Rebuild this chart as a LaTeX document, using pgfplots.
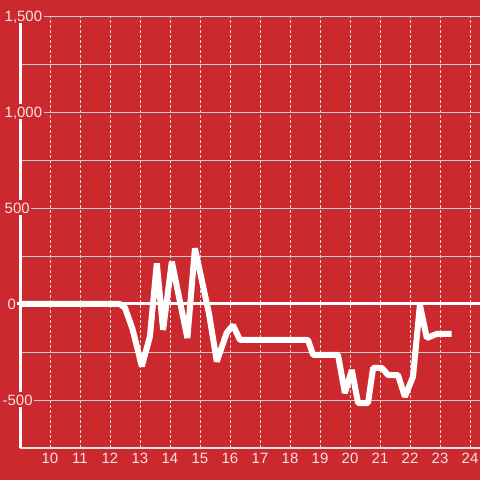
\documentclass[border=0pt]{standalone}
\usepackage{fontspec}
\setmainfont{Liberation Sans}
\usepackage{pgfplots}
\pgfplotsset{compat=1.18}
\definecolor{bg}{RGB}{204,41,46}
\definecolor{lbl}{RGB}{242,226,226}
\definecolor{hgrid}{RGB}{205,205,205}
\definecolor{vgrid}{RGB}{222,222,222}
\definecolor{xaxis}{RGB}{232,226,226}
\begin{document}
\begin{tikzpicture}
\begin{axis}[
  set layers,
  at={(20bp,32bp)}, anchor=south west,
  scale only axis, width=460bp, height=432bp,
  xmin=9, xmax=24.3333, ymin=-750, ymax=1500,
  clip=false,
  axis x line=bottom, axis y line=left,
  x axis line style={-, draw=xaxis, line width=1.2bp},
  y axis line style={-, draw=white, line width=3bp},
  xtick={10,...,24},
  ytick={-500,0,500,1000,1500},
  yticklabels={{\hspace{-2bp}-500},{\hspace{3bp}0},{500},{1,000},{1,500}},
  minor ytick={-250,250,750,1250},
  major tick length=0pt, minor tick length=0pt,
  xmajorgrids, ymajorgrids, yminorgrids,
  x grid style={draw=vgrid, line width=0.9bp, dash pattern=on 2.5bp off 2.5bp},
  y grid style={draw=hgrid, line width=0.9bp},
  minor y grid style={draw=hgrid, line width=0.9bp},
  /pgf/number format/assume math mode=true,
  tick label style={font=\fontsize{15}{18}\selectfont, text=lbl},
  xticklabel style={yshift=-2bp},
  yticklabel style={anchor=west, xshift=-17bp, fill=bg, inner xsep=1.5bp, inner ysep=2bp, text height=11bp, text depth=0bp},
]
\begin{pgfonlayer}{axis background}
\fill[bg] (axis cs:8.33333,-916.667) rectangle (axis cs:24.33333,1583.333);
\end{pgfonlayer}
\draw[white, line width=3bp] (axis cs:8.9,0) -- (axis cs:24.3333,0);
\addplot[white, line width=6bp, line join=bevel, mark=none] coordinates {
(9,0) (12.33,0) (12.5,-20) (12.75,-130) (13.06,-325) (13.33,-170) (13.56,212)
(13.77,-135) (14.06,220) (14.58,-177) (14.83,290) (15.3,-50) (15.56,-300)
(15.89,-150) (16.1,-110) (16.33,-187) (18.6,-187) (18.77,-265) (19.6,-265)
(19.83,-464) (20.06,-344) (20.27,-516) (20.6,-516) (20.77,-333) (21.06,-333)
(21.27,-370) (21.6,-370) (21.83,-483) (22.1,-379) (22.33,-5) (22.56,-177)
(22.89,-156) (23.39,-156)
};
\end{axis}
\pgfresetboundingbox
\path[use as bounding box] (0,0) rectangle (480bp,480bp);
\end{tikzpicture}
\end{document}
